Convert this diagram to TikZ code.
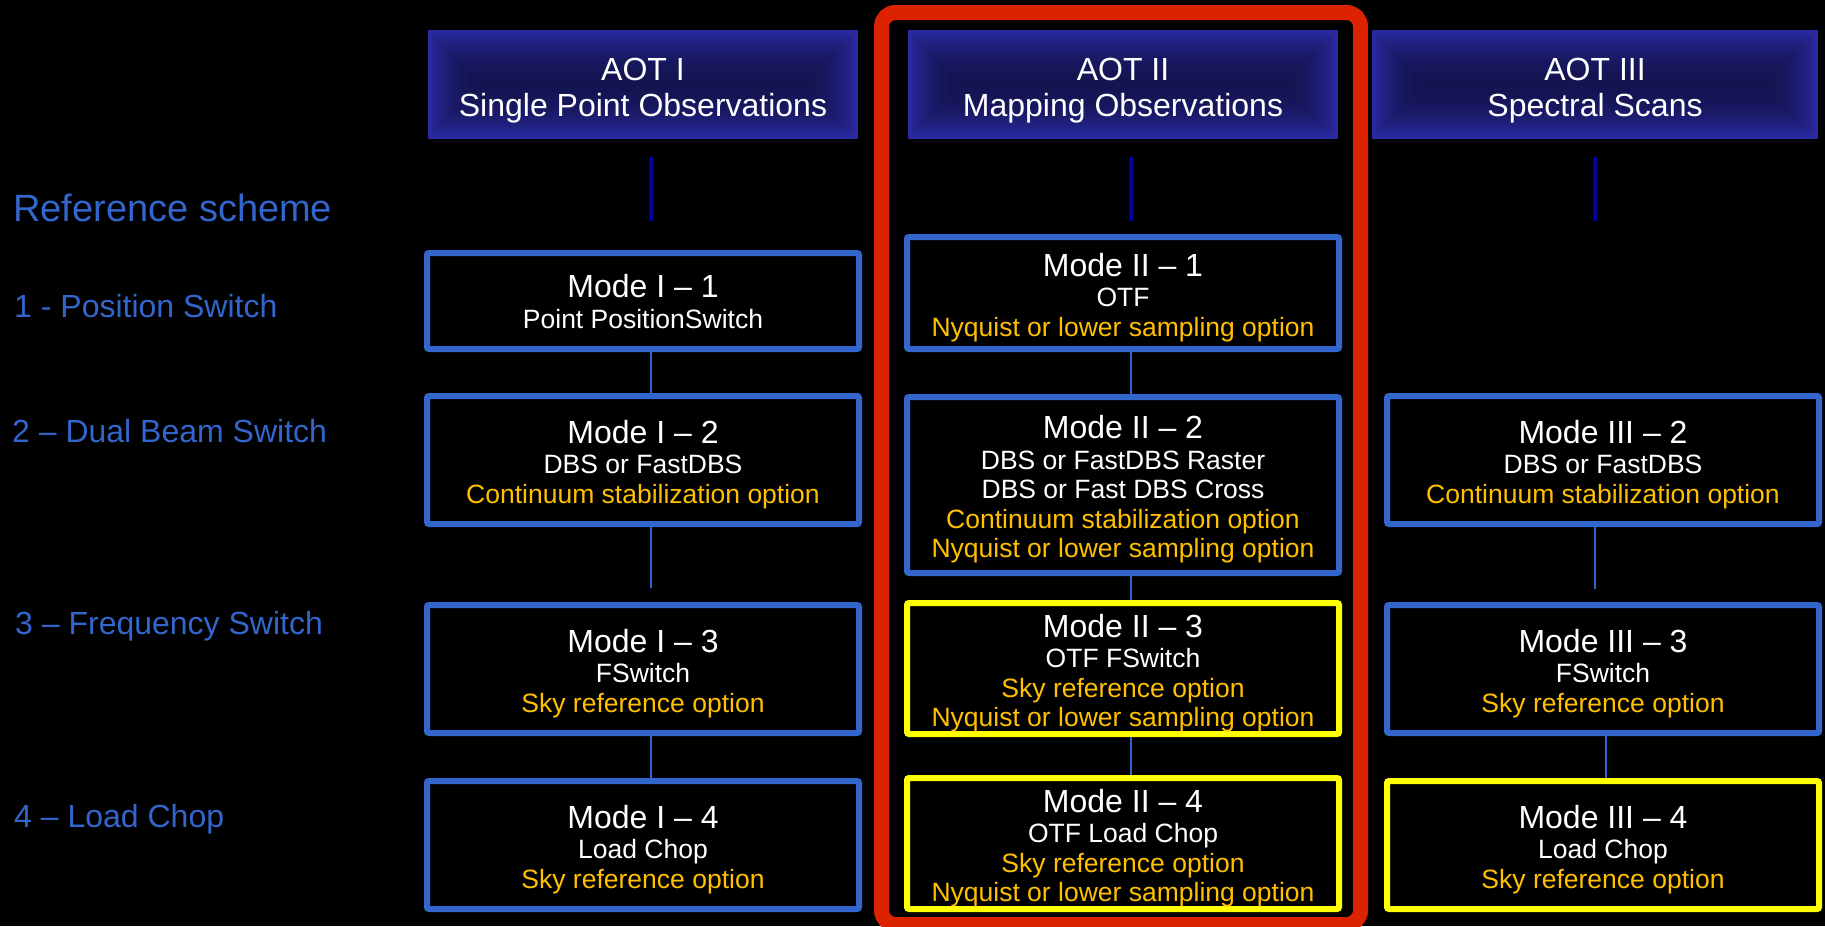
\documentclass[tikz,border=0pt]{standalone}
\usepackage{fontspec}
\setmainfont{Liberation Sans}
\usepackage{tikz}
\usetikzlibrary{calc}
\definecolor{modeblue}{HTML}{3366CC}
\definecolor{hdredge}{RGB}{42,42,162}
\definecolor{hdrdark}{RGB}{20,20,82}
\definecolor{linkdark}{HTML}{0000A0}
\definecolor{optgold}{HTML}{FFC000}
\definecolor{framered}{HTML}{DD2200}
\definecolor{hiyellow}{HTML}{FFFF00}
\newcommand{\mtitle}[2][32pt]{{\fontsize{32}{35}\selectfont\rule{0pt}{#1}#2}\\[1pt]}
\newcommand{\optl}[1]{\textcolor{optgold}{#1}}

\begin{document}
\begin{tikzpicture}[
  x=1pt, y=-1pt,
  every node/.style={text=white},
  hdr/.style={minimum width=430pt, minimum height=109pt, inner sep=0pt,
              align=center, font=\fontsize{32}{36}\selectfont,
              path picture={
                \foreach \k in {0,...,30}{
                  \pgfmathsetmacro\p{100*(1-(1-\k/30)^2)}
                  \fill[hdrdark!\p!hdredge]
                    ($(path picture bounding box.south west)+(\k*1.8pt,\k*1.8pt)$)
                    rectangle
                    ($(path picture bounding box.north east)-(\k*1.8pt,\k*1.8pt)$);
                }}},
  mode/.style={draw=modeblue, line width=6pt, rounded corners=2pt,
               minimum width=432pt, minimum height=128pt, inner sep=2pt,
               align=center, font=\fontsize{26.5}{29.5}\selectfont},
  hilite/.style={mode, draw=hiyellow},
  lab/.style={anchor=base west, inner sep=0pt, text=modeblue,
              font=\fontsize{32}{36}\selectfont},
  link/.style={draw=modeblue, line width=2pt},
  hlink/.style={draw=linkdark, line width=3.5pt}
]
\useasboundingbox (0,0) rectangle (1825,926);
\fill[black] (0,0) rectangle (1825,926);

%% selected AOT
\draw[framered, line width=15pt, rounded corners=14pt]
  (881.5,12.5) rectangle (1360.5,924.5);

%% AOT headers
\node[hdr] (h1) at (643,84.5)  {\rule{0pt}{34.5pt}AOT I\\Single Point Observations};
\node[hdr] (h2) at (1123,84.5) {\rule{0pt}{34.5pt}AOT II\\Mapping Observations};
\node[hdr, minimum width=446pt] (h3) at (1595,84.5)
  {\rule{0pt}{34.5pt}AOT III\\Spectral Scans};

%% reference schemes
\node[lab, font=\fontsize{38}{42}\selectfont] (lref) at (13,221) {Reference scheme};
\node[lab] (lps)  at (14,317) {1 - Position Switch};
\node[lab] (ldbs) at (12,442) {2 – Dual Beam Switch};
\node[lab] (lfs)  at (15,634) {3 – Frequency Switch};
\node[lab] (llc)  at (14,827) {4 – Load Chop};

%% AOT I
\node[mode, minimum height=96pt] (m11) at (643,301)
  {\mtitle[24pt]{Mode I – 1}Point PositionSwitch};
\node[mode] (m12) at (643,460)
  {\mtitle{Mode I – 2}DBS or FastDBS\\\optl{Continuum stabilization option}};
\node[mode] (m13) at (643,669)
  {\mtitle{Mode I – 3}FSwitch\\\optl{Sky reference option}};
\node[mode] (m14) at (643,845)
  {\mtitle{Mode I – 4}Load Chop\\\optl{Sky reference option}};

%% AOT II
\node[mode, minimum height=112pt] (m21) at (1123,293)
  {\mtitle{Mode II – 1}OTF\\\optl{Nyquist or lower sampling option}};
\node[mode, minimum height=176pt] (m22) at (1123,485)
  {\mtitle{Mode II – 2}DBS or FastDBS Raster\\DBS or Fast DBS Cross\\
   \optl{Continuum stabilization option}\\\optl{Nyquist or lower sampling option}};
\node[hilite, minimum height=127pt] (m23) at (1123,668.5)
  {\mtitle{Mode II – 3}OTF FSwitch\\\optl{Sky reference option}\\
   \optl{Nyquist or lower sampling option}};
\node[hilite, minimum height=127pt] (m24) at (1123,843.5)
  {\mtitle{Mode II – 4}OTF Load Chop\\\optl{Sky reference option}\\
   \optl{Nyquist or lower sampling option}};

%% AOT III
\node[mode] (m32) at (1603,460)
  {\mtitle{Mode III – 2}DBS or FastDBS\\\optl{Continuum stabilization option}};
\node[mode] (m33) at (1603,669)
  {\mtitle{Mode III – 3}FSwitch\\\optl{Sky reference option}};
\node[hilite] (m34) at (1603,845)
  {\mtitle{Mode III – 4}Load Chop\\\optl{Sky reference option}};

%% header stubs
\draw[hlink] ([shift={(8,18)}]h1.south) -- ([shift={(8,82)}]h1.south);
\draw[hlink] ([shift={(8,18)}]h2.south) -- ([shift={(8,82)}]h2.south);
\draw[hlink] ([shift={(0,18)}]h3.south) -- ([shift={(0,82)}]h3.south);

%% mode links
\draw[link] ([xshift=8pt]m11.south) -- ([xshift=8pt]m12.north);
\draw[link, shorten >=14pt] ([xshift=8pt]m12.south) -- ([xshift=8pt]m13.north);
\draw[link] ([xshift=8pt]m13.south) -- ([xshift=8pt]m14.north);
\foreach \a/\b in {m21/m22, m22/m23, m23/m24}
  \draw[link] ([xshift=8pt]\a.south) -- ([xshift=8pt]\b.north);
\draw[link, shorten >=13pt] ([xshift=-8pt]m32.south) -- ([xshift=-8pt]m33.north);
\draw[link] ([xshift=3pt]m33.south) -- ([xshift=3pt]m34.north);

\end{tikzpicture}
\end{document}
